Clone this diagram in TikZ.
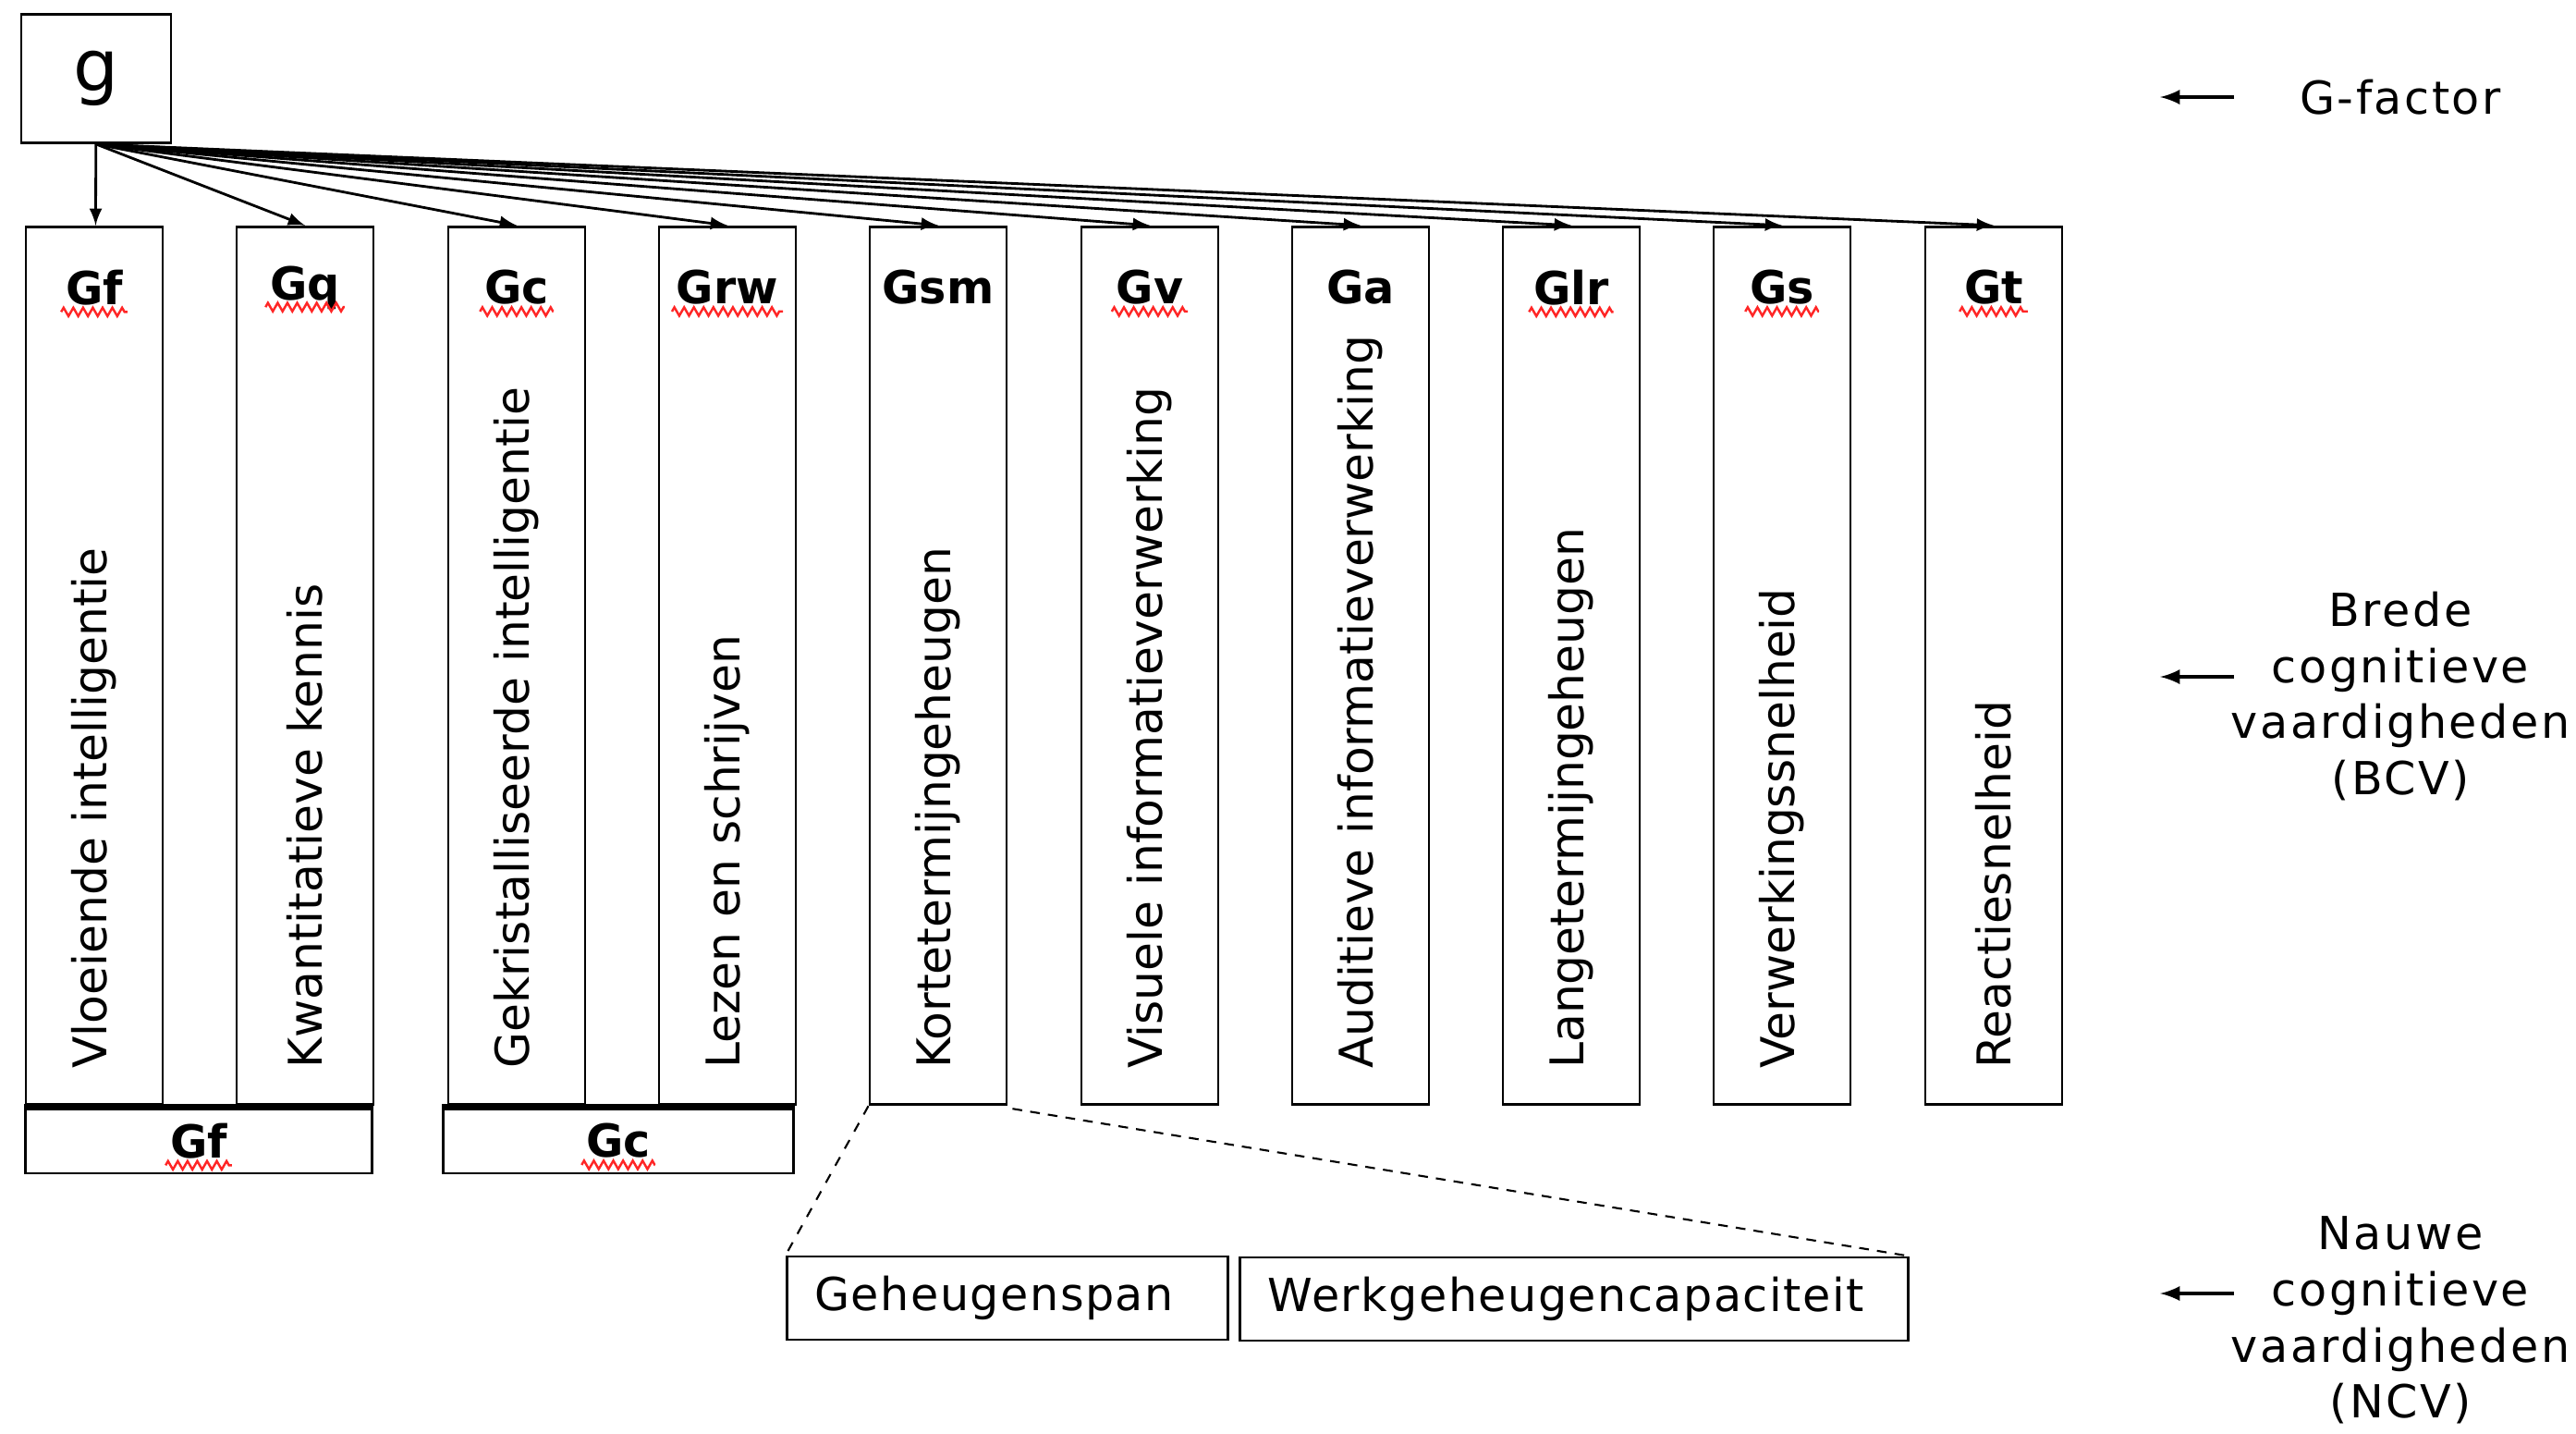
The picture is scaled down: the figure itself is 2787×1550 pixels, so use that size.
\documentclass[tikz,border=0pt]{standalone}
\usepackage{fontspec}
\setmainfont{DejaVu Sans}
\newfontfamily\spatie[LetterSpace=5]{DejaVu Sans}
\newfontfamily\spatiek[LetterSpace=3]{DejaVu Sans}
\usetikzlibrary{positioning,calc,decorations.pathmorphing}

\begin{document}
\begin{tikzpicture}[
                    x=0.01cm, y=-0.01cm,
                    >=latex,
                    line width=0.8pt,
                    font=\fontsize{14}{17.3}\selectfont,
                    kolom/.style={draw, rectangle, minimum width=1.48cm, minimum height=9.49cm, inner sep=0pt},
                    afk/.style={font=\fontsize{14}{17}\selectfont\bfseries, inner sep=1pt},
                    breed/.style={rotate=90, anchor=west, inner sep=0pt, font=\fontsize{14.3}{17}\selectfont},
                    groep/.style={draw, rectangle, minimum height=0.7cm, inner sep=0pt},
                    nauw/.style={draw, rectangle, minimum height=0.9cm, inner xsep=0.3cm, align=left, font=\fontsize{14}{17}\spatiek},
                    niveau/.style={align=center, font=\fontsize{14}{17.3}\spatie},
                    spel/.style={red!85, line width=0.7pt, decorate, decoration={zigzag, segment length=3pt, amplitude=1.3pt}}
                    ]
        \useasboundingbox (0,0) rectangle (2787,1550);

        % g-factor
        \node [draw, rectangle, minimum width=1.62cm, minimum height=1.39cm, font=\fontsize{22}{26}\selectfont] (g) at (104,85) {g};

        % brede vaardigheden
        \foreach \n/\x/\ab/\txt/\sp in {gf/102/Gf/Vloeiende intelligentie/1,
                                        gq/330/Gq/Kwantitatieve kennis/1,
                                        gc/559/Gc/Gekristalliseerde intelligentie/1,
                                        grw/787/Grw/Lezen en schrijven/1,
                                        gsm/1015/Gsm/Kortetermijngeheugen/0,
                                        gv/1244/Gv/Visuele informatieverwerking/1,
                                        ga/1472/Ga/Auditieve informatieverwerking/0,
                                        glr/1700/Glr/Langetermijngeheugen/1,
                                        gs/1928/Gs/Verwerkingssnelheid/1,
                                        gt/2157/Gt/Reactiesnelheid/1} {
            \node [kolom] (\n) at (\x,720) {};
            \node [afk] (a\n) at (\x,311) {\ab};
            \node [breed] (t\n) at ($(\n.south)+(0,-39)$) {\txt};
            \ifnum\sp=1 \draw[spel] ($(a\n.base west)+(0,8)$) -- ($(a\n.base east)+(0,8)$); \fi
        }

        \draw[->] (g) -- (gf);
        \foreach \n in {gq,gc,grw,gsm,gv,ga,glr,gs,gt}
            \draw[->] (g.south) -- (\n.north);

        % samengevoegde groepen
        \node [groep, minimum width=3.74cm] (grpf) at (215,1234) {};
        \node [groep, minimum width=3.78cm] (grpc) at (669,1234) {};
        \draw[line width=2.2pt] (grpf.north west) -- (grpf.north east);
        \draw[line width=2.2pt] (grpc.north west) -- (grpc.north east);
        \node [afk] (agrpf) at (grpf) {Gf};
        \node [afk] (agrpc) at (grpc) {Gc};
        \draw[spel] ($(agrpf.base west)+(0,8)$) -- ($(agrpf.base east)+(0,8)$);
        \draw[spel] ($(agrpc.base west)+(0,8)$) -- ($(agrpc.base east)+(0,8)$);

        % nauwe vaardigheden
        \node [nauw, text width=4.17cm] (span) at (1090,1404) {Geheugenspan};
        \node [nauw, text width=6.62cm] (werk) at (1703,1405) {Werkgeheugencapaciteit};
        \draw[dashed, line width=0.6pt] (gsm.south west) -- (span.north west);
        \draw[dash pattern=on 3pt off 2.5pt, line width=0.6pt] ($(gsm.south east)+(5,3)$) -- (werk.north east);

        % niveaus
        \node [niveau] (gfac) at (2597,105) {G-factor};
        \node [niveau] (bcv) at (2597,753) {Brede\\cognitieve\\vaardigheden\\(BCV)};
        \node [niveau] (ncv) at (2597,1428) {Nauwe\\cognitieve\\vaardigheden\\(NCV)};
        \coordinate (pg1) at (2417,105);  \coordinate (pg2) at (2337,105);
        \coordinate (pb1) at (2417,732);  \coordinate (pb2) at (2337,732);
        \coordinate (pn1) at (2417,1399); \coordinate (pn2) at (2337,1399);
        \draw[->, line width=1.1pt] (pg1) -- (pg2);
        \draw[->, line width=1.1pt] (pb1) -- (pb2);
        \draw[->, line width=1.1pt] (pn1) -- (pn2);
\end{tikzpicture}
\end{document}
